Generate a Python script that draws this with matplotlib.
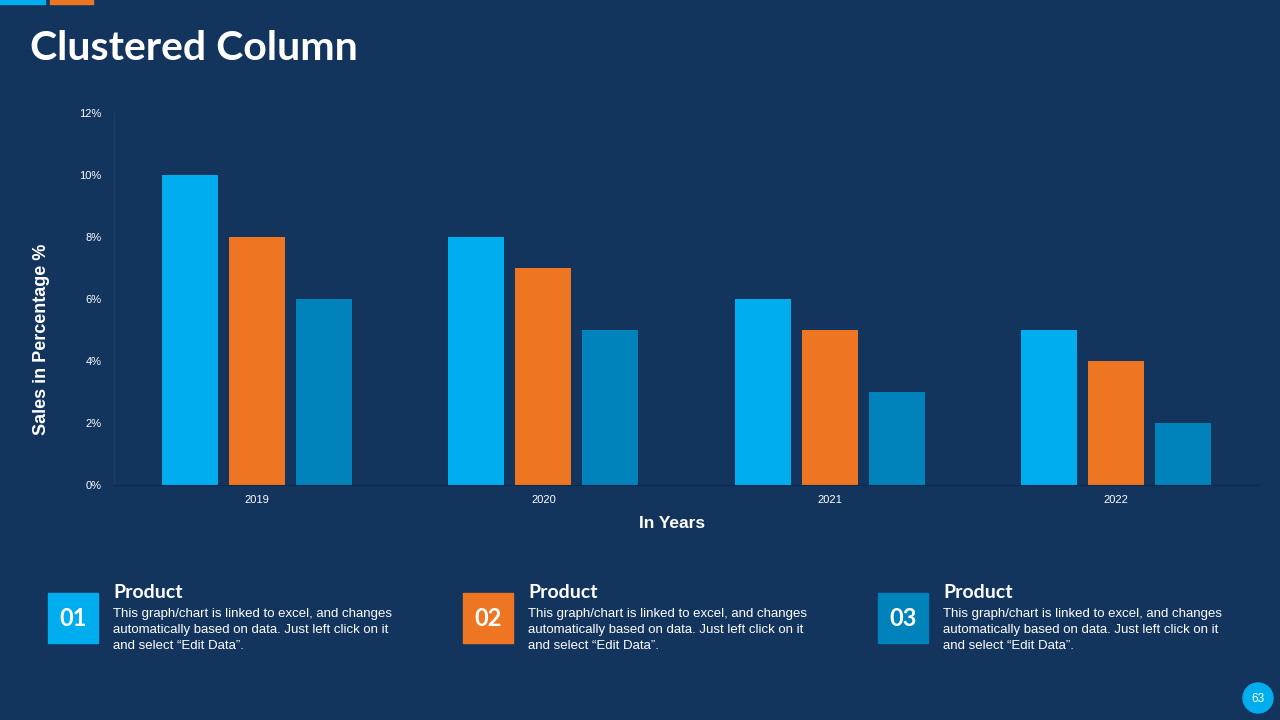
import matplotlib.pyplot as plt
import numpy as np
from matplotlib.patches import Rectangle, Circle

# data
years = ["2019", "2020", "2021", "2022"]
series_1 = [10, 8, 6, 5]
series_2 = [8, 7, 5, 4]
series_3 = [6, 5, 3, 2]
y_ticks = [0, 2, 4, 6, 8, 10, 12]
box_labels = ["01", "02", "03"]

bg = "#13345D"
colors = ["#00AEEF", "#EE7623", "#0082BA"]
body = "Liberation Sans"

fig = plt.figure(figsize=(12.8, 7.2), dpi=100)
fig.patch.set_facecolor(bg)

# axes in pixel coords: left 114, right 1259, top 113, bottom 485
ax = fig.add_axes([114 / 1280, 1 - 485 / 720, (1259 - 114) / 1280, (485 - 113) / 720])
ax.set_facecolor(bg)

x = np.arange(len(years))
w = 0.195
off = 0.234
for i, vals in enumerate([series_1, series_2, series_3]):
    ax.bar(x + (i - 1) * off, vals, width=w, color=colors[i], zorder=2)

ax.set_xlim(-0.5, len(years) - 0.5)
ax.set_ylim(0, 12)
ax.set_yticks(y_ticks)
ax.set_yticklabels([f"{t}%" for t in y_ticks], color="white", fontsize=8, family=body)
ax.set_xticks(x)
ax.set_xticklabels(years, color="white", fontsize=8, family=body)
ax.tick_params(axis="y", length=0, pad=9)
ax.tick_params(axis="x", length=0, pad=7)
for s in ["top", "right"]:
    ax.spines[s].set_visible(False)
ax.spines["left"].set_color("#1F3F68")
ax.spines["bottom"].set_color("#0E2A4C")
ax.set_ylabel("Sales in Percentage %", color="white", fontsize=13, fontweight="bold", family=body)
ax.set_xlabel("In Years", color="white", fontsize=12.5, fontweight="bold", family=body)
# label centres: y label at (42, 339) px, x label at (672, 524) px
ax.yaxis.set_label_coords((42 - 114) / 1145, (485 - 339) / 372)
ax.xaxis.set_label_coords((672 - 114) / 1145, -(524 - 485) / 372)
ax.yaxis.label.set_va("center")
ax.xaxis.label.set_va("center")

# overlay axes in pixel coordinates for decorations
ov = fig.add_axes([0, 0, 1, 1], facecolor="none")
ov.set_xlim(0, 1280)
ov.set_ylim(720, 0)
ov.axis("off")

# title
ov.text(30, 49, "Clustered Column", color="white", fontsize=29.5,
        fontweight="bold", family="Lato", va="center", ha="left")

# top decoration
ov.add_patch(Rectangle((0, 0), 45, 4, color=colors[0]))
ov.add_patch(Rectangle((50, 0), 43, 4, color=colors[1]))

# bottom text blocks
desc = "This graph/chart is linked to excel, and changes\nautomatically based on data. Just left click on it\nand select \u201cEdit Data\u201d."
for i, lab in enumerate(box_labels):
    bx = 48 + i * 415
    ov.add_patch(Rectangle((bx, 593), 50, 50, color=colors[i]))
    ov.text(bx + 25, 618, lab, color="white", fontsize=17, fontweight="bold",
            family="Lato", ha="center", va="center")
    ov.text(bx + 65, 592, "Product", color="white", fontsize=14,
            fontweight="bold", family="Lato", ha="left", va="center")
    ov.text(bx + 65, 608, desc, color="white", fontsize=9.5,
            family=body, ha="left", va="top", linespacing=1.45)

# page number
ov.add_patch(Circle((1258, 698), 15, color=colors[0]))
ov.text(1258, 699, "63", color="white", fontsize=8.5, family=body, ha="center", va="center")

fig.savefig("out.png", dpi=100, facecolor=bg)
